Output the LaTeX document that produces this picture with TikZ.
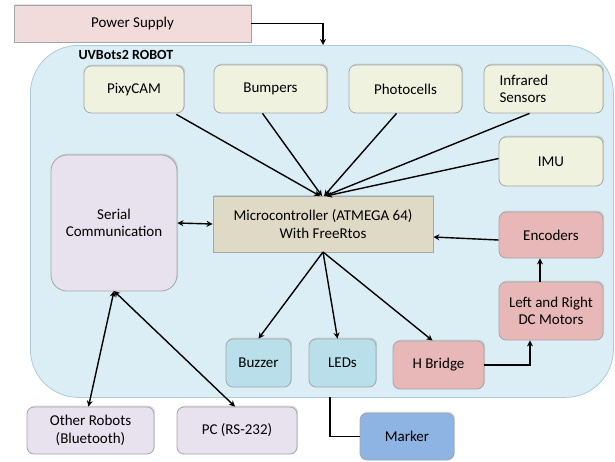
\documentclass[tikz,border=0pt]{standalone}
\usepackage{fontspec}
\setmainfont{Carlito}
\usetikzlibrary{arrows.meta,shadows}
\definecolor{pinkf}{HTML}{F2DCDB}
\definecolor{robotf}{HTML}{DCEEF5}
\definecolor{robotd}{HTML}{A9CBDB}
\definecolor{sensf}{HTML}{EEF2DF}
\definecolor{lavf}{HTML}{E8E1EE}
\definecolor{mcuf}{HTML}{DFDAC6}
\definecolor{redf}{HTML}{E8B8B8}
\definecolor{bluef}{HTML}{B9DFEA}
\definecolor{markf}{HTML}{8EB4E3}
\definecolor{bord}{HTML}{A6A6A6}
\tikzset{
  shad/.style={drop shadow={opacity=0.25, shadow xshift=1.2pt, shadow yshift=1.5pt}},
  box/.style={draw=bord, line width=0.8pt, rounded corners=7pt, align=center, inner sep=2pt, font=\fontsize{15}{17.5}\selectfont, shad},
  sq/.style={draw=bord, line width=0.8pt, align=center, inner sep=2pt, font=\fontsize{15}{17.5}\selectfont, shad},
  conn/.style={line width=1.4pt, -{Stealth[length=6pt,width=6pt]}},
  dconn/.style={line width=1.4pt, {Stealth[length=6pt,width=6pt]}-{Stealth[length=6pt,width=6pt]}},
  plain/.style={line width=1.4pt}
}
\begin{document}
\begin{tikzpicture}[x=1pt,y=-1pt]
\useasboundingbox (0,0) rectangle (615,461);
% robot container
\node[draw=robotd, fill=robotf, line width=0.8pt, rounded corners=48pt, minimum width=583pt, minimum height=352pt, anchor=north west] (robot) at (30,45) {};
\node[font=\bfseries\fontsize{14}{16}\selectfont, anchor=west] (title) at (75,55) {UVBots2 ROBOT};
% power
\node[sq, fill=pinkf, minimum width=237pt, minimum height=37pt] (power) at (132.5,23.5) {Power Supply};
% sensors
\node[box, fill=sensf, minimum width=100pt, minimum height=47pt] (pixy) at (134,89.5) {PixyCAM};
\node[box, fill=sensf, minimum width=113pt, minimum height=48pt] (bump) at (270.5,89) {Bumpers};
\node[box, fill=sensf, minimum width=113pt, minimum height=48pt] (photo) at (405.5,89) {Photocells};
\node[box, fill=sensf, minimum width=119pt, minimum height=48pt, text width=106pt, align=left] (ir) at (543.5,89) {\hspace*{9pt}Infrared\\\hspace*{9pt}Sensors};
\node[box, fill=sensf, minimum width=104pt, minimum height=49pt] (imu) at (551,161.5) {IMU};
% serial
\node[box, fill=lavf, rounded corners=16pt, minimum width=126pt, minimum height=136pt] (serial) at (114,223) {Serial\\Communication};
% MCU
\node[sq, fill=mcuf, minimum width=220pt, minimum height=56pt] (mcu) at (323,224) {Microcontroller (ATMEGA 64)\\With FreeRtos};
% right chain
\node[box, fill=redf, minimum width=104pt, minimum height=46pt] (enc) at (551,235) {Encoders};
\node[box, fill=redf, minimum width=104pt, minimum height=58pt] (motors) at (551,311) {Left and Right\\DC Motors};
\node[box, fill=redf, minimum width=91pt, minimum height=48pt] (hb) at (438.5,365) {H Bridge};
\node[box, fill=bluef, minimum width=65pt, minimum height=48pt] (buzz) at (258.5,363) {Buzzer};
\node[box, fill=bluef, minimum width=67pt, minimum height=48pt] (leds) at (342.5,363) {LEDs};
% outside
\node[box, fill=lavf, minimum width=127pt, minimum height=47pt] (other) at (90.5,430.5) {Other Robots\\(Bluetooth)};
\node[box, fill=lavf, minimum width=120pt, minimum height=47pt] (pc) at (237,430.5) {PC (RS-232)};
\node[box, fill=markf, minimum width=94pt, minimum height=47pt] (marker) at (407,436.5) {Marker};
% connectors
\coordinate (pin) at (323,45);
\draw[conn] (power.east) -| (pin);
\coordinate (mtop) at (323,196);
\draw[conn] (pixy.south east) ++(-8,1) -- ([xshift=-3pt]mtop);
\draw[conn] ([xshift=-8pt]bump.south) -- ([xshift=-1pt]mtop);
\draw[conn] ([xshift=-9pt]photo.south) -- ([xshift=1pt]mtop);
\draw[conn] ([xshift=-14pt]ir.south) -- ([xshift=2pt]mtop);
\draw[conn] ([yshift=3pt]imu.west) -- ([xshift=3pt]mtop);
\draw[dconn] (serial.east) -- (mcu.west);
\draw[conn] ([yshift=-5pt]enc.west) -- ([yshift=-13pt]mcu.east);
\coordinate (mbot) at (323,252);
\draw[conn] (mbot) -- (buzz.north);
\draw[conn] (mbot) -- ([xshift=-5pt]leds.north);
\draw[conn] (mbot) -- ([xshift=-6pt]hb.north);
\draw[conn] (hb.east) -| ([xshift=-21pt]motors.south);
\draw[conn] ([xshift=-11pt]motors.north) -- ([xshift=-11pt]enc.south);
\coordinate (sbot) at (114,291);
\draw[dconn] (sbot) -- ([xshift=-2pt]other.north);
\draw[dconn] (sbot) -- ([xshift=-2pt]pc.north);
\coordinate (ledl) at (330,397);
\draw[plain] (ledl) |- (marker.west);
\end{tikzpicture}
\end{document}
